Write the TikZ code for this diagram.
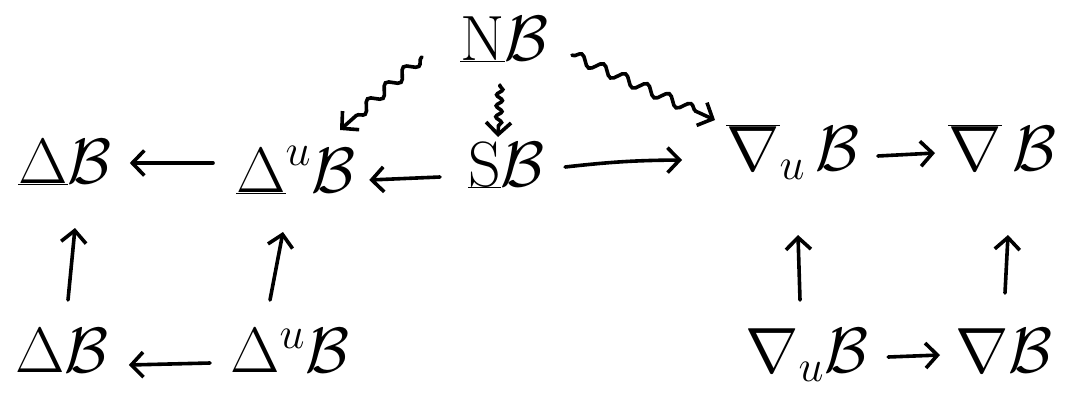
\RequirePackage{fix-cm}
\documentclass[tikz,border=0pt]{standalone}
\usetikzlibrary{arrows.meta,decorations.pathmorphing}
\begin{document}
\begin{tikzpicture}[x=1pt,y=-1pt,
  obj/.style={font=\fontsize{64}{64}\selectfont, inner sep=0pt, anchor=base west},
  arr/.style={line width=3.6pt, line cap=round, -{Straight Barb[length=12pt,width=25pt,line width=3.6pt]}},
  sq/.style={arr, decorate, decoration={snake, amplitude=5pt, segment length=24pt, pre length=1pt, post=lineto, post length=10pt}},
  sqv/.style={arr, decorate, decoration={snake, amplitude=3pt, segment length=11pt, pre length=1pt, post=lineto, post length=10pt}}]
\useasboundingbox (0,0) rectangle (1076,397);
% objects
\node[obj] (NB)  at (460,60)  {$\underline{\mathrm{N}}\mathcal{B}$};
\node[obj] (DB)  at (18,183)  {$\underline{\Delta}\mathcal{B}$};
\node[obj] (DuB) at (236,192) {$\underline{\Delta}^{u}\mathcal{B}$};
\node[obj] (SB)  at (468,186) {$\underline{\mathrm{S}}\mathcal{B}$};
\node[obj] (NuB) at (726,170) {$\overline{\nabla}_{u}\,\mathcal{B}$};
\node[obj] (NbB) at (948,170) {$\overline{\nabla}\,\mathcal{B}$};
\node[obj] (bDB)  at (15,372)  {$\Delta\mathcal{B}$};
\node[obj] (bDuB) at (230,372) {$\Delta^{u}\mathcal{B}$};
\node[obj] (bNuB) at (745,372) {$\nabla_{u}\mathcal{B}$};
\node[obj] (bNB)  at (955,372) {$\nabla\mathcal{B}$};
% horizontal arrows
\draw[arr] ([shift={(-23,-29)}]DuB.base west) -- ([shift={(18,-20)}]DB.base east);
\draw[arr] ([shift={(-28,-9)}]SB.base west) -- ([shift={(14,-12)}]DuB.base east);
\draw[arr] ([shift={(20,-19)}]SB.base east) to[bend left=3] ([shift={(-44,-10)}]NuB.base west);
\draw[arr] ([shift={(18,-14)}]NuB.base east) -- ([shift={(-13,-17)}]NbB.base west);
\draw[arr] ([shift={(-20,-9)}]bDuB.base west) -- ([shift={(20,-7)}]bDB.base east);
\draw[arr] ([shift={(20,-15)}]bNuB.base east) -- ([shift={(-15,-17)}]bNB.base west);
% vertical arrows
\draw[arr] ([shift={(53,-72)}]bDB.base west) -- ([shift={(57,45)}]DB.base west);
\draw[arr] ([shift={(40,-72)}]bDuB.base west) -- ([shift={(47,40)}]DuB.base west);
\draw[arr] ([shift={(55,-72)}]bNuB.base west) -- ([shift={(72,65)}]NuB.base west);
\draw[arr] ([shift={(50,-79)}]bNB.base west) -- ([shift={(60,65)}]NbB.base west);
% squiggly arrows
\draw[sq] ([shift={(-38,-3)}]NB.base west) -- ([shift={(104,-62)}]DuB.base west);
\draw[sqv] ([shift={(40,25)}]NB.base west) -- ([shift={(30,-49)}]SB.base west);
\draw[sq] ([shift={(112,-5)}]NB.base west) -- ([shift={(-11,-50)}]NuB.base west);
\end{tikzpicture}
\end{document}
